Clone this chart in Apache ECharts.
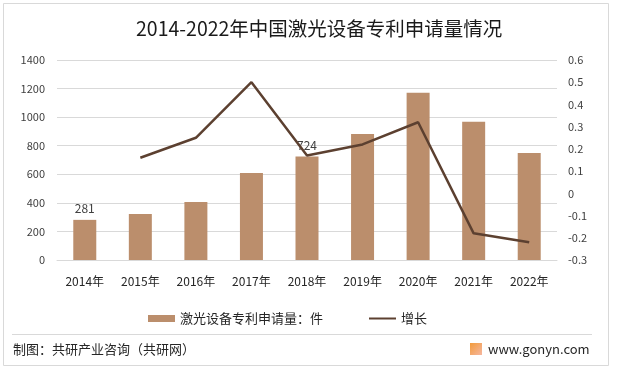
<!DOCTYPE html>
<html>
<head>
<meta charset="utf-8">
<script src="https://cdn.jsdelivr.net/npm/echarts@6/dist/echarts.min.js"></script>
<style>
html,body{margin:0;padding:0;background:#fff;}
#c{width:617px;height:372px;}
</style>
</head>
<body>
<div id="c"></div>
<script>
const categories = ['2014年','2015年','2016年','2017年','2018年','2019年','2020年','2021年','2022年'];
const applications = [281, 322, 406, 609, 724, 882, 1171, 968, 749];
const growth = [null, 0.16, 0.25, 0.50, 0.17, 0.22, 0.32, -0.18, -0.22];
const labeledIndex = [0, 4];
const leftTicks = {min: 0, max: 1400, interval: 200};
const rightTicks = {min: -0.3, max: 0.6, interval: 0.1};
const barName = '激光设备专利申请量：件';
const lineName = '增长';
const titleText = '2014-2022年中国激光设备专利申请量情况';
const footerText = '制图：共研产业咨询（共研网）';
const siteText = 'www.gonyn.com';

const FONT = '"Noto Sans CJK SC", "Noto Sans", sans-serif';
const chart = echarts.init(document.getElementById('c'), null, {renderer: 'canvas'});
chart.setOption({
  backgroundColor: '#fff',
  animation: false,
  textStyle: {fontFamily: FONT},
  title: {
    text: titleText, left: 131, top: 14,
    textStyle: {fontFamily: FONT, fontSize: 19.5, fontWeight: 'normal', color: '#1a1a1a'}
  },
  legend: {
    left: 143, top: 307, itemWidth: 27, itemHeight: 7, itemGap: 45,
    textStyle: {fontFamily: FONT, fontSize: 13, color: '#262626'},
    data: [
      {name: barName, icon: 'rect'},
      {name: lineName, itemStyle: {opacity: 0}}
    ]
  },
  grid: {left: 57, right: 60, top: 60, bottom: 112, containLabel: false},
  xAxis: {
    type: 'category', data: categories,
    axisLine: {show: true, lineStyle: {color: '#d9d9d9'}},
    axisTick: {show: false},
    axisLabel: {fontFamily: FONT, fontSize: 12, color: '#262626', margin: 15}
  },
  yAxis: [
    {
      type: 'value', min: leftTicks.min, max: leftTicks.max, interval: leftTicks.interval,
      axisLine: {show: false}, axisTick: {show: false},
      splitLine: {lineStyle: {color: '#d9d9d9'}},
      axisLabel: {fontFamily: FONT, fontSize: 11, color: '#404040', margin: 12,
        formatter: v => String(v)}
    },
    {
      type: 'value', min: rightTicks.min, max: rightTicks.max, interval: rightTicks.interval,
      axisLine: {show: false}, axisTick: {show: false},
      splitLine: {show: false},
      axisLabel: {fontFamily: FONT, fontSize: 11, color: '#404040', margin: 11,
        formatter: v => String(Math.round(v * 10) / 10)}
    }
  ],
  series: [
    {
      name: barName, type: 'bar', data: applications, barWidth: 23,
      itemStyle: {color: '#bb8e6c'},
      label: {
        show: true, position: 'top', distance: 5,
        fontFamily: FONT, fontSize: 12, color: '#404040',
        formatter: p => labeledIndex.includes(p.dataIndex) ? String(p.value) : ''
      }
    },
    {
      name: lineName, type: 'line', yAxisIndex: 1, data: growth,
      symbol: 'none', connectNulls: false,
      lineStyle: {color: '#5c4030', width: 2.5},
      itemStyle: {color: '#5c4030'}
    }
  ],
  graphic: [
    {type: 'rect', shape: {x: 3.5, y: 3.5, width: 605, height: 362},
      style: {fill: 'none', stroke: '#d9d9d9', lineWidth: 1}, z: -1},
    {type: 'line', shape: {x1: 12, y1: 334.5, x2: 592, y2: 334.5},
      style: {stroke: '#d9d9d9', lineWidth: 1}},
    {type: 'text', left: 13, top: 343,
      style: {text: footerText, font: '13px ' + FONT, fill: '#262626'}},
    {type: 'rect', shape: {x: 470, y: 343, width: 12, height: 12},
      style: {fill: new echarts.graphic.LinearGradient(0, 0, 1, 1, [
        {offset: 0, color: '#f29b3a'}, {offset: 1, color: '#f6b7a0'}])}},
    {type: 'text', left: 488, top: 343,
      style: {text: siteText, font: '13px ' + FONT, fill: '#262626'}}
  ]
});
</script>
</body>
</html>
